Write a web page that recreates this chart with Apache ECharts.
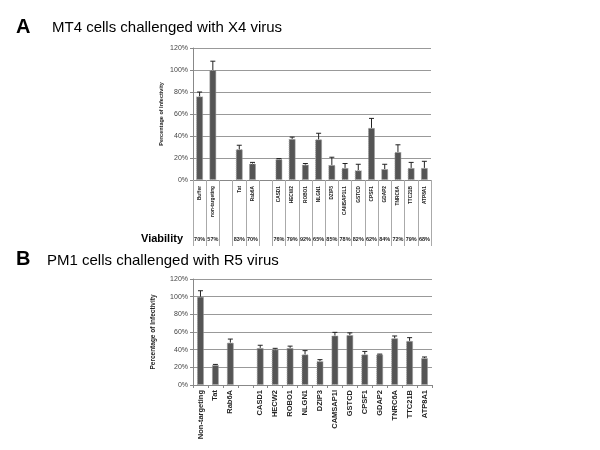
<!DOCTYPE html>
<html>
<head>
<meta charset="utf-8">
<script src="https://cdn.jsdelivr.net/npm/echarts@6/dist/echarts.min.js"></script>
<style>html,body{margin:0;padding:0;background:#fff;}#c{width:600px;height:450px;}</style>
</head>
<body>
<div id="c"></div>
<script>
// Panel A: MT4 cells challenged with X4 virus
const catsA = ['Buffer','non-targeting','','Tat','Rab6A','','CASD1','HECW2','ROBO1','NLGN1','DZIP3','CAMSAP1L1','GSTCD','CPSF1','GDAP2','TNRC6A','TTC21B','ATP8A1'];
const valsA = [76,100,null,28,15,null,19,37.4,14,37,13.7,11,8.8,47.4,10,25.5,11,11];
const errA  = [80,108,null,31.6,16,null,19.5,39,15,42.5,20.7,15,14.3,56,14.3,32,16,17];
const viabA = ['70%','57%','','83%','70%','','76%','79%','92%','65%','85%','78%','82%','62%','84%','72%','79%','68%'];
// Panel B: PM1 cells challenged with R5 virus
const catsB = ['Non-targeting','Tat','Rab6A','','CASD1','HECW2','ROBO1','NLGN1','DZIP3','CAMSAP1l','GSTCD','CPSF1','GDAP2','TNRC6A','TTC21B','ATP8A1'];
const valsB = [100,22.6,48,null,42,40.4,42,34.7,27,56,56.6,34.7,34.7,53,50,30.5];
const errB  = [106.7,23.3,52,null,45,41.5,44,38.9,28.7,59.6,59,38,35,55.5,53.6,31.7];
const yTicks = [0,20,40,60,80,100,120];

const chart = echarts.init(document.getElementById('c'), null, {renderer:'canvas'});

function errData(vals, errs){
  const d = [];
  vals.forEach((v,i)=>{ if(v!=null) d.push([i, v, errs[i]]); });
  return d;
}
function errRender(params, api){
  const x = api.value(0);
  const lo = api.coord([x, api.value(1)]);
  const hi = api.coord([x, api.value(2)]);
  const st = {stroke:'#222', lineWidth:1};
  return {type:'group', children:[
    {type:'line', shape:{x1:lo[0],y1:lo[1],x2:hi[0],y2:hi[1]}, style:st},
    {type:'line', shape:{x1:hi[0]-2.5,y1:hi[1],x2:hi[0]+2.5,y2:hi[1]}, style:st}
  ]};
}
const barStyle = {color:'#555', borderColor:'#9a9a9a', borderWidth:1, borderType:'dotted'};
function yAxis(grid, nameSize, nameGap){
  return {
    type:'value', gridIndex:grid, min:yTicks[0], max:yTicks[yTicks.length-1], interval:20,
    name:'Percentage of Infectivity', nameLocation:'middle', nameGap:nameGap,
    nameTextStyle:{fontSize:nameSize, fontWeight:'bold', color:'#222', fontFamily:'Arial'},
    axisLine:{show:true, lineStyle:{color:'#888'}},
    axisTick:{show:true, length:3, lineStyle:{color:'#888'}},
    axisLabel:{formatter:'{value}%', fontSize:7, color:'#444', margin:5, fontFamily:'Arial'},
    splitLine:{show:true, lineStyle:{color:'#999', width:1}}
  };
}

chart.setOption({
  animation:false,
  backgroundColor:'#fff',
  grid:[
    {left:193, top:48, width:238, height:132},
    {left:193, top:279, width:239, height:106}
  ],
  xAxis:[
    {type:'category', gridIndex:0, data:catsA,
     axisLine:{show:true, lineStyle:{color:'#888'}},
     axisTick:{show:true, interval:0, length:66, lineStyle:{color:'#aaa'}},
     axisLabel:{interval:0, rotate:90, fontSize:4.8, fontWeight:'bold', color:'#222', margin:6, fontFamily:'Arial'}},
    {type:'category', gridIndex:0, data:viabA, position:'bottom', offset:59,
     axisLine:{show:false}, axisTick:{show:false},
     axisLabel:{interval:0, fontSize:5.5, fontWeight:'bold', color:'#222', margin:0, verticalAlign:'middle', fontFamily:'Arial'},
     name:'Viability', nameLocation:'start', nameGap:10,
     nameTextStyle:{fontSize:11, fontWeight:'bold', color:'#000', fontFamily:'Arial', verticalAlign:'middle'}},
    {type:'category', gridIndex:1, data:catsB,
     axisLine:{show:true, lineStyle:{color:'#888'}},
     axisTick:{show:true, interval:0, length:3, lineStyle:{color:'#888'}},
     axisLabel:{interval:0, rotate:90, fontSize:7.5, fontWeight:'bold', color:'#222', margin:5, fontFamily:'Arial'}}
  ],
  yAxis:[ yAxis(0, 5.5, 29), yAxis(1, 6.5, 36) ],
  series:[
    {type:'bar', xAxisIndex:0, yAxisIndex:0, data:valsA.map(v=>v==null?'-':v), barWidth:7, itemStyle:barStyle},
    {type:'custom', xAxisIndex:0, yAxisIndex:0, data:errData(valsA, errA), renderItem:errRender, z:3},
    {type:'bar', xAxisIndex:2, yAxisIndex:1, data:valsB.map(v=>v==null?'-':v), barWidth:7, itemStyle:barStyle},
    {type:'custom', xAxisIndex:2, yAxisIndex:1, data:errData(valsB, errB), renderItem:errRender, z:3}
  ],
  graphic:[
    {type:'text', left:16, top:17, style:{text:'A', font:'bold 20px Arial', fill:'#000'}},
    {type:'text', left:52, top:20, style:{text:'MT4 cells challenged with X4 virus', font:'15px Arial', fill:'#000'}},
    {type:'text', left:16, top:249, style:{text:'B', font:'bold 20px Arial', fill:'#000'}},
    {type:'text', left:47, top:253, style:{text:'PM1 cells challenged with R5 virus', font:'15px Arial', fill:'#000'}}
  ]
});
</script>
</body>
</html>
